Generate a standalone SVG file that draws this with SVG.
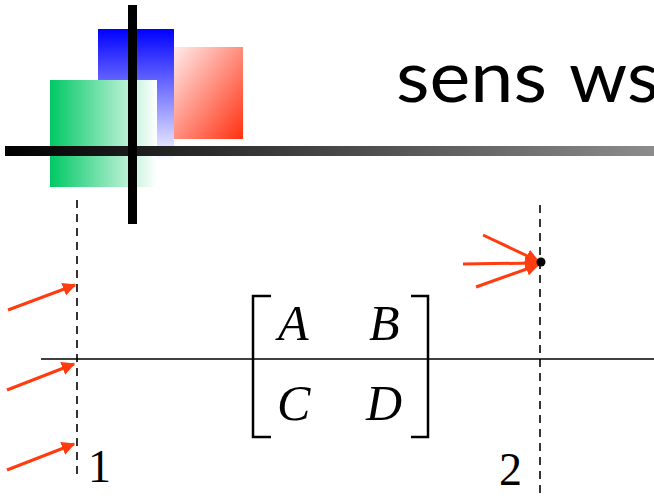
<svg xmlns="http://www.w3.org/2000/svg" width="654" height="504" viewBox="0 0 654 504">
<defs>
<linearGradient id="gBlue" x1="0" y1="0" x2="0" y2="1"><stop offset="0" stop-color="#0000ff"/><stop offset="1" stop-color="#ffffff"/></linearGradient>
<linearGradient id="gGreen" x1="0" y1="0" x2="1" y2="0"><stop offset="0" stop-color="#00c864"/><stop offset="1" stop-color="#ffffff"/></linearGradient>
<linearGradient id="gRed" x1="0" y1="0" x2="1" y2="1"><stop offset="0" stop-color="#ffecec"/><stop offset="1" stop-color="#ff3010"/></linearGradient>
<linearGradient id="gBar" x1="0" y1="0" x2="1" y2="0"><stop offset="0" stop-color="#000000"/><stop offset="1" stop-color="#8c8c8c"/></linearGradient>
<marker id="ah" viewBox="0 0 10 10" refX="9" refY="5" markerWidth="4.5" markerHeight="4.5" markerUnits="strokeWidth" orient="auto"><path d="M0,0 L10,5 L0,10 z" fill="#ff3c10"/></marker>
</defs>
<style>
.arr{stroke:#ff3c10;stroke-width:3;fill:none;marker-end:url(#ah)}
.dash{stroke:#000;stroke-width:1.6;stroke-dasharray:8 6;fill:none}
.mat{font-family:"Liberation Serif",serif;font-style:italic;font-size:50px;fill:#000}
.lbl{font-family:"Liberation Serif",serif;font-size:46px;fill:#000}
.br{stroke:#000;stroke-width:2.5;fill:none}
</style>
<g id="decor">
<rect x="98" y="29" width="76" height="132" fill="url(#gBlue)"/>
<rect x="174" y="47" width="69" height="92" fill="url(#gRed)"/>
<rect x="50" y="80" width="107" height="107" fill="url(#gGreen)"/>
<rect x="5" y="146" width="649" height="10" fill="url(#gBar)"/>
<rect x="128" y="5" width="9" height="219" fill="#000"/>
</g>
<text id="title" y="102" font-family="Lato, 'Noto Sans', sans-serif" font-size="72" fill="#000"><tspan x="396" textLength="151" lengthAdjust="spacingAndGlyphs">sens</tspan><tspan x="569" textLength="90" lengthAdjust="spacingAndGlyphs">ws</tspan></text>
<g id="connectors">
<line class="dash" x1="77" y1="200" x2="77" y2="478"/>
<line class="dash" x1="540" y1="205" x2="540" y2="498"/>
<line x1="41" y1="359" x2="654" y2="359" stroke="#000" stroke-width="1.6"/>
<line class="arr" x1="8" y1="310" x2="75" y2="285"/>
<line class="arr" x1="7" y1="390" x2="74" y2="364"/>
<line class="arr" x1="7" y1="470" x2="74" y2="444"/>
<line class="arr" x1="483" y1="235" x2="538" y2="261"/>
<line class="arr" x1="463" y1="264" x2="537" y2="263"/>
<line class="arr" x1="476" y1="287" x2="538" y2="265"/>
<circle cx="541" cy="262" r="4.5" fill="#000"/>
</g>
<g id="matrix">
<path class="br" d="M271,296 H253 V437 H271"/>
<path class="br" d="M411,296 H428 V437 H411"/>
<text class="mat" x="278" y="340">A</text>
<text class="mat" x="369" y="340">B</text>
<text class="mat" x="277" y="420">C</text>
<text class="mat" x="366" y="420">D</text>
</g>
<text id="label1" class="lbl" x="88" y="482">1</text>
<text id="label2" class="lbl" x="499" y="485">2</text>
</svg>
